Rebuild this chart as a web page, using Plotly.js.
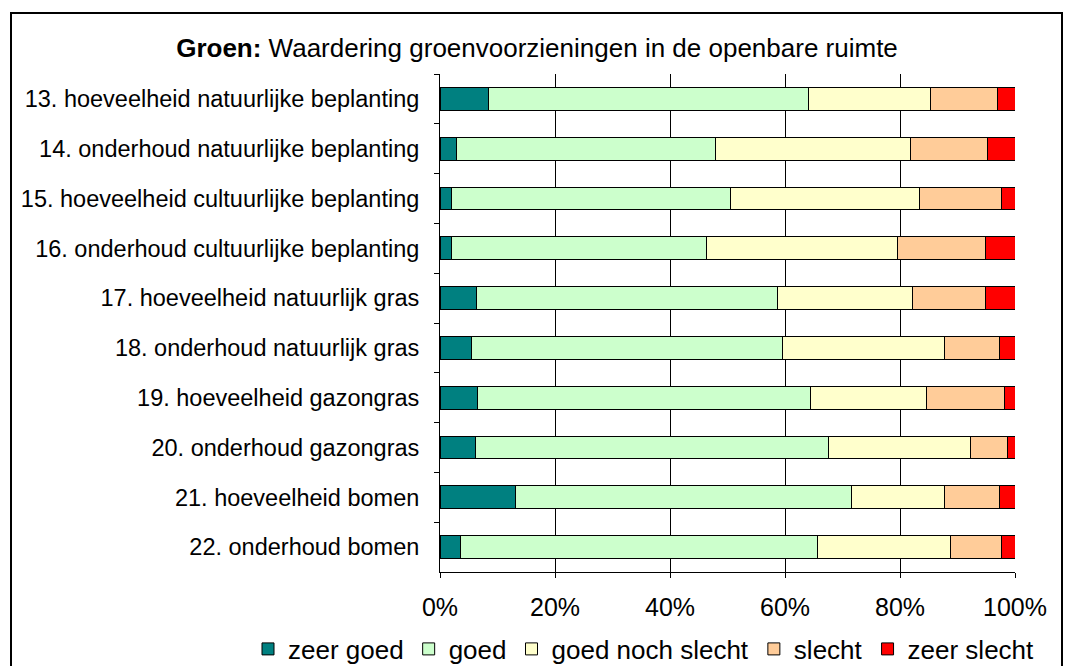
<!DOCTYPE html>
<html>
<head>
<meta charset="utf-8">
<script src="https://cdn.plot.ly/plotly-3.0.1.min.js"></script>
<style>html,body{margin:0;padding:0;background:#fff;}#chart{width:1073px;height:666px;}</style>
</head>
<body>
<div id="chart"></div>
<script>
const categories = [
  "13. hoeveelheid natuurlijke beplanting",
  "14. onderhoud natuurlijke beplanting",
  "15. hoeveelheid cultuurlijke beplanting",
  "16. onderhoud cultuurlijke beplanting",
  "17. hoeveelheid natuurlijk gras",
  "18. onderhoud natuurlijk gras",
  "19. hoeveelheid gazongras",
  "20. onderhoud gazongras",
  "21. hoeveelheid bomen",
  "22. onderhoud bomen"
];
const seriesNames = ["zeer goed", "goed", "goed noch slecht", "slecht", "zeer slecht"];
const zeerGoed       = [8.5, 2.8, 2.0, 2.0, 6.3, 5.4, 6.6, 6.2, 13.2, 3.5];
const goed           = [55.6, 45.1, 48.5, 44.3, 52.4, 54.1, 57.9, 61.3, 58.3, 62.2];
const goedNochSlecht = [21.2, 34.0, 32.9, 33.2, 23.5, 28.2, 20.1, 24.7, 16.2, 23.0];
const slecht         = [11.6, 13.4, 14.3, 15.4, 12.7, 9.6, 13.5, 6.5, 9.6, 9.0];
const zeerSlecht     = [3.1, 4.7, 2.3, 5.1, 5.1, 2.7, 1.9, 1.3, 2.7, 2.3];
const tickVals = [0, 20, 40, 60, 80, 100];
const tickText = ["0%", "20%", "40%", "60%", "80%", "100%"];

const colors = ["#008080", "#CCFFCC", "#FFFFCC", "#FFCC99", "#FF0000"];
const allSeries = [zeerGoed, goed, goedNochSlecht, slecht, zeerSlecht];

const font = "Liberation Sans, Arial, sans-serif";
const traces = allSeries.map((vals, i) => ({
  type: "bar",
  orientation: "h",
  name: seriesNames[i],
  x: vals,
  y: categories,
  width: 0.46,
  marker: {color: colors[i], line: {color: "#000", width: 1}},
  hoverinfo: "skip"
}));

// plot area: x 440..1015, y 74..572
const L = 440, R = 1073 - 1015, T = 74, B = 666 - 572;
const pw = 1073 - L - R, ph = 666 - T - B;
const px = v => (v - L) / pw;
const py = v => (666 - B - v) / ph;

const layout = {
  width: 1073, height: 666,
  margin: {l: L, r: R, t: T, b: B, pad: 0, autoexpand: false},
  paper_bgcolor: "#fff", plot_bgcolor: "#fff",
  barmode: "stack",
  font: {family: font, color: "#000"},
  title: {
    text: "<b>Groen:</b> Waardering groenvoorzieningen in de openbare ruimte",
    font: {family: font, size: 26, color: "#000"},
    x: 537 / 1073, xanchor: "center", xref: "container",
    y: 1 - 48 / 666, yanchor: "middle", yref: "container"
  },
  xaxis: {
    range: [0, 100],
    tickvals: tickVals, ticktext: tickText,
    showgrid: true, gridcolor: "#000", gridwidth: 1,
    zeroline: false,
    showline: true, linecolor: "#000", linewidth: 1,
    ticks: "outside", ticklen: 5, tickcolor: "#000",
    tickfont: {family: font, size: 25, color: "#000"},
    ticklabelstandoff: 8,
    fixedrange: true
  },
  yaxis: {
    type: "category",
    autorange: "reversed",
    showgrid: false, zeroline: false,
    showline: true, linecolor: "#000", linewidth: 1,
    ticks: "outside", ticklen: 5, tickcolor: "#000", tickson: "boundaries",
    tickfont: {family: font, size: 23.5, color: "#000"},
    ticklabelstandoff: 15,
    fixedrange: true
  },
  legend: {
    orientation: "h",
    x: px(248), xanchor: "left",
    y: py(649), yanchor: "middle",
    font: {family: font, size: 26, color: "#000"},
    traceorder: "normal",
    bgcolor: "rgba(0,0,0,0)",
    itemclick: false, itemdoubleclick: false
  },
  shapes: [{
    type: "rect", xref: "paper", yref: "paper",
    x0: px(11), x1: px(1062), y0: py(700), y1: py(13),
    line: {color: "#000", width: 2}, fillcolor: "rgba(0,0,0,0)", layer: "below"
  }],
  showlegend: true
};

Plotly.newPlot("chart", traces, layout, {displayModeBar: false, staticPlot: true});
</script>
</body>
</html>
